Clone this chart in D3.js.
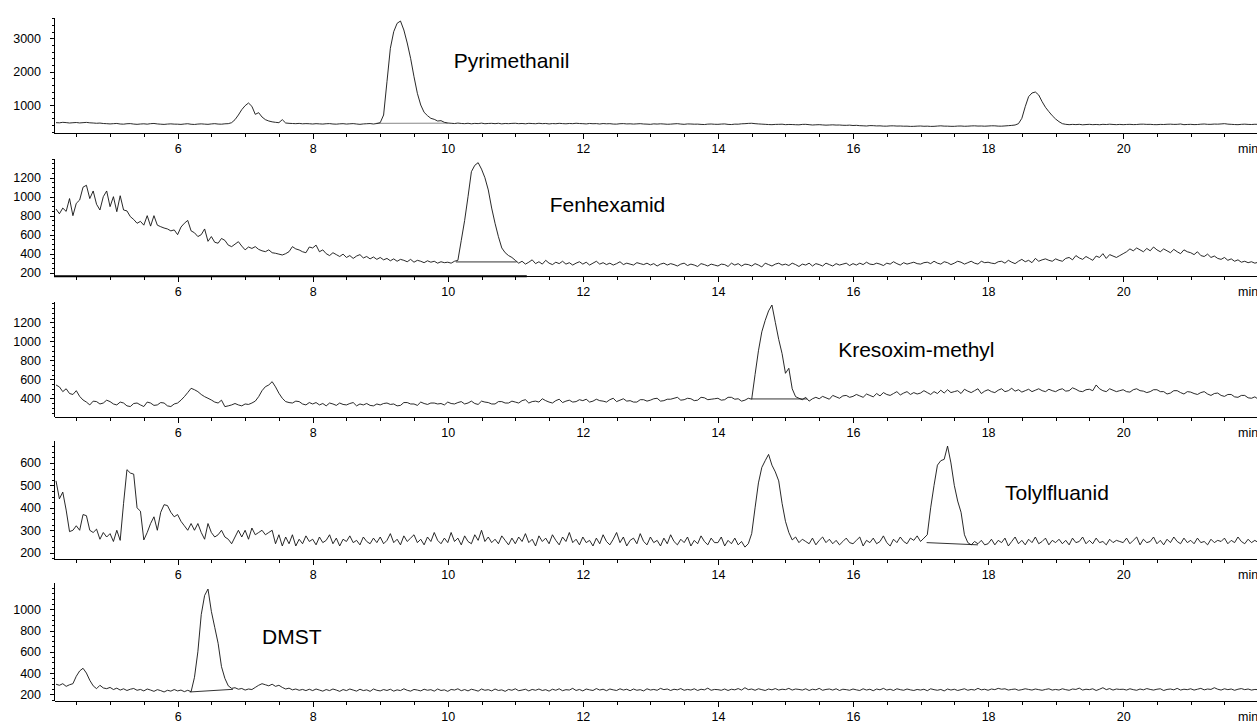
<!DOCTYPE html>
<html>
<head>
<meta charset="utf-8">
<script src="https://cdn.jsdelivr.net/npm/d3@7"></script>
<style>
  body { margin: 0; background: #fff; }
  text { font-family: "Liberation Sans", Arial, sans-serif; fill: #000; }
</style>
</head>
<body>
<div id="chart"></div>
<script>
const startTime = 4.2;    // first sample (min)
const stepTime = 0.05;    // sampling interval (min)

const compounds = ["Pyrimethanil", "Fenhexamid", "Kresoxim-methyl", "Tolylfluanid", "DMST"];

// one trace per panel, one row per minute (4.20 ... 22.00)
const pyrimethanil = [
  470,465,480,472,460,468,475,462,470,478,466,460,452,458,445,440,
  432,440,446,430,425,438,442,428,420,430,436,425,440,446,432,424,418,428,434,426,
  424,418,430,438,422,416,428,434,426,420,432,440,428,424,436,440,470,560,700,860,
  980,1060,960,720,770,640,560,520,495,480,470,560,460,450,445,440,448,436,442,438,
  430,440,434,428,438,442,430,425,435,440,428,436,442,430,420,432,438,444,430,445,
  470,700,1700,2700,3200,3450,3520,3250,2860,2400,1850,1350,1000,780,680,600,570,520,530,480,
  460,452,444,458,446,440,452,436,448,442,456,438,446,450,440,452,434,446,440,448,
  452,440,446,436,450,444,438,452,440,446,432,444,438,450,442,436,446,440,452,444,
  440,432,446,438,442,430,444,436,440,428,426,438,442,432,436,428,434,440,430,426,
  420,434,428,436,430,422,426,434,440,428,420,432,430,424,426,418,414,426,430,422,
  420,428,432,418,414,426,424,436,440,448,452,440,432,426,420,414,410,418,420,424,
  410,416,414,408,405,418,420,410,400,406,410,402,395,400,405,398,400,392,390,396,
  385,390,380,376,370,382,380,372,375,366,365,374,375,368,370,364,365,358,360,366,
  370,362,365,358,360,368,375,366,365,360,360,368,370,362,365,372,375,368,370,364,
  370,376,375,366,365,372,380,388,400,440,600,950,1250,1360,1390,1300,1100,930,800,680,
  580,500,440,420,410,418,412,420,406,414,420,410,416,408,420,414,424,416,410,418,
  410,416,420,412,415,424,425,418,420,412,410,418,415,422,425,418,420,430,410,416,
  420,412,415,424,430,420,420,428,425,432,440,426,420,414,410,420,425,418,415,422,
  420];

const fenhexamid = [
  870,820,880,845,980,800,930,965,1100,1120,980,1060,920,860,1000,1060,
  895,1000,842,1010,860,850,790,760,720,740,700,800,690,800,700,684,670,660,640,650,
  600,680,720,750,640,620,580,600,660,530,580,520,510,560,540,490,474,500,526,480,
  440,470,455,474,445,430,421,440,410,404,395,386,400,421,474,450,439,420,410,470,
  460,490,420,440,400,380,410,390,370,395,360,380,350,375,390,355,370,345,365,340,
  360,335,350,325,345,320,340,330,315,340,310,330,320,305,325,310,320,300,315,305,
  310,300,320,330,540,750,1000,1263,1330,1358,1290,1200,1071,880,720,579,460,410,380,360,
  330,300,320,290,310,335,295,315,290,330,300,285,310,295,320,290,305,280,300,315,
  290,310,280,300,320,290,305,285,300,280,295,315,285,300,290,280,305,295,285,300,
  280,295,270,290,300,280,295,285,270,290,300,275,290,280,265,295,285,270,290,280,
  270,290,285,265,300,280,295,270,290,285,270,295,280,260,300,285,270,290,300,280,
  290,275,300,285,265,290,280,300,270,295,285,270,300,285,270,295,280,290,300,275,
  295,280,300,285,310,290,285,300,290,275,300,290,315,295,280,305,290,300,310,295,
  290,305,310,295,320,300,290,315,305,285,300,320,310,290,305,320,300,290,320,305,
  310,300,295,315,320,300,330,310,295,320,340,315,330,305,350,320,335,345,330,320,
  345,330,320,350,360,335,380,355,340,370,350,330,375,360,400,350,390,375,360,380,
  400,420,450,430,460,440,420,455,430,470,440,420,450,430,410,445,420,400,440,420,
  410,390,420,380,370,395,360,375,350,340,360,330,345,320,335,310,320,305,315,300,
  310];

const kresoximMethyl = [
  540,520,470,500,450,440,480,420,382,360,330,370,365,340,350,380,
  365,340,330,360,350,320,313,345,350,330,313,360,350,325,330,355,350,320,313,340,
  350,380,417,460,505,490,470,440,417,400,382,360,350,380,312,320,330,345,330,320,
  340,335,350,370,417,480,522,540,575,520,453,400,365,355,350,370,365,340,330,355,
  340,355,330,345,320,350,340,325,350,335,330,345,355,320,340,330,345,325,320,340,
  330,345,350,335,340,320,325,355,355,340,340,325,360,345,335,350,350,340,345,330,
  360,345,340,355,365,340,350,370,345,335,370,360,355,340,340,365,365,350,350,370,
  360,350,375,385,350,365,370,360,395,375,360,350,375,390,355,370,380,360,365,385,
  375,390,360,370,390,375,370,360,385,400,365,380,395,370,375,360,360,385,385,370,
  380,395,400,370,375,390,390,400,410,380,385,400,395,375,380,410,405,385,390,395,
  400,380,385,410,410,390,395,370,380,400,390,650,900,1100,1220,1320,1382,1200,1020,870,
  663,716,500,417,400,385,410,370,395,410,395,420,405,390,430,415,400,425,430,410,
  420,440,425,410,445,430,415,450,425,460,440,430,450,470,435,455,470,440,460,445,
  455,480,460,440,470,450,485,455,490,460,470,480,450,495,475,460,480,500,450,475,
  490,470,460,485,500,470,480,505,475,490,465,480,495,470,485,500,480,470,495,480,
  470,490,500,475,480,510,495,475,470,490,495,480,540,500,480,470,500,485,470,480,
  490,470,465,490,500,480,475,460,470,490,490,470,470,445,455,480,480,460,445,470,
  465,450,440,460,470,445,430,450,455,430,420,440,440,415,410,430,430,405,400,415,
  390];

const tolylfluanid = [
  520,440,470,390,294,300,320,300,370,365,300,290,305,260,290,270,
  285,250,300,255,420,570,555,550,400,385,257,290,330,360,300,380,414,410,380,360,
  370,340,320,300,330,300,330,290,260,330,290,270,280,300,270,260,240,270,300,270,
  300,260,310,280,290,300,280,290,300,240,280,230,270,240,280,230,260,240,275,250,
  260,235,270,245,255,280,240,265,230,260,250,275,245,255,235,270,250,240,265,245,
  270,240,255,285,245,260,235,275,250,265,280,245,260,235,270,250,290,255,240,265,
  245,290,250,265,235,275,250,240,280,255,300,250,270,245,260,240,275,255,235,265,
  240,270,250,285,245,260,230,275,250,265,240,280,255,235,270,250,290,245,260,235,
  270,245,255,230,265,240,280,250,235,260,290,245,270,230,255,265,240,285,250,235,
  270,245,255,230,265,240,280,250,235,260,245,270,230,255,240,275,250,235,265,245,
  245,270,230,255,240,265,235,250,225,240,285,400,511,580,610,638,590,560,520,420,
  340,290,257,270,245,260,250,240,265,235,255,270,245,260,240,255,235,250,265,245,
  240,255,270,230,255,245,265,240,250,275,245,230,260,245,270,250,240,265,255,275,
  250,265,280,400,500,590,610,616,675,600,500,430,380,280,245,235,250,240,255,235,
  240,260,235,255,245,265,230,250,270,240,255,235,260,245,270,240,250,265,235,255,
  245,260,240,255,235,265,245,250,270,240,255,240,265,245,250,235,260,245,255,250,
  245,265,240,255,270,235,260,245,250,270,240,255,235,260,245,270,250,240,265,245,
  255,240,265,245,250,235,260,245,255,250,265,240,255,245,270,250,240,260,245,255,
  245];

const dmst = [
  295,285,300,275,290,300,370,420,445,400,332,280,253,285,260,253,
  265,245,258,240,252,236,248,255,238,246,232,250,240,228,244,235,222,238,230,245,
  232,240,225,238,225,360,600,950,1130,1190,980,830,680,460,350,280,256,262,248,255,
  240,250,245,265,285,300,290,280,295,275,285,265,250,258,242,250,238,246,235,248,
  235,250,240,230,245,235,250,240,228,245,235,250,240,230,248,235,242,228,250,238,
  232,245,236,248,230,242,235,252,238,230,246,240,232,248,238,244,230,250,236,242,
  228,246,240,252,234,245,232,248,240,230,250,238,244,232,250,236,242,228,246,238,
  252,234,240,248,232,246,238,250,236,244,230,248,238,252,234,244,240,256,236,246,
  232,250,242,236,254,240,248,234,250,242,236,252,240,248,234,250,238,244,232,252,
  240,246,238,256,244,250,236,248,242,254,238,246,240,252,236,248,242,258,238,246,
  244,238,250,236,248,242,254,240,262,244,250,238,252,244,236,250,242,254,240,248,
  244,256,240,250,246,240,252,236,248,242,256,238,246,250,240,252,236,248,244,238,
  250,242,236,252,240,248,234,250,242,256,240,248,236,252,244,238,250,242,236,246,
  240,248,234,252,244,238,246,232,250,240,248,236,244,252,238,246,240,256,242,248,
  238,250,244,256,248,252,240,246,250,238,244,252,246,240,250,244,238,246,252,240,
  246,240,252,244,238,250,246,258,240,248,244,252,236,248,262,244,254,240,250,246,
  248,240,252,244,238,250,242,254,246,240,248,252,236,246,250,242,256,240,248,244,
  252,240,248,256,242,250,246,262,248,240,252,244,250,238,248,254,244,250,240,246,
  244];

const traces = [pyrimethanil, fenhexamid, kresoximMethyl, tolylfluanid, dmst];

// labelled y ticks of every panel
const yTickLabels = [
  [1000, 2000, 3000],
  [200, 400, 600, 800, 1000, 1200],
  [400, 600, 800, 1000, 1200],
  [200, 300, 400, 500, 600],
  [200, 400, 600, 800, 1000]
];
const xTickLabels = [6, 8, 10, 12, 14, 16, 18, 20];

// integration baseline under each named peak: [t1, v1, t2, v2]
const peakBaselines = [
  [8.94, 450, 10.0, 455],
  [10.12, 313, 11.02, 313],
  [14.50, 393, 15.32, 393],
  [17.09, 245, 17.85, 235],
  [6.18, 222, 6.82, 247]
];

// panel geometry (pixels) and value range
const layout = [
  { top: 17,    bottom: 133,   yMin: 160, yMax: 3640, minor: 200, label: [10.09, 2110] },
  { top: 158.3, bottom: 275.7, yMin: 168, yMax: 1404, minor: 50,  label: [11.51, 839] },
  { top: 301.7, bottom: 416.7, yMin: 206, yMax: 1417, minor: 50,  label: [15.78, 838] },
  { top: 440.7, bottom: 559,   yMin: 172, yMax: 699,  minor: 25,  label: [18.25, 436] },
  { top: 582.7, bottom: 700.7, yMin: 140, yMax: 1250, minor: 50,  label: [7.25, 673] }
];

const width = 1257, height = 721;

const svg = d3.select("#chart")
  .append("svg")
  .attr("width", width)
  .attr("height", height)
  .style("display", "block");

svg.append("rect").attr("width", width).attr("height", height).attr("fill", "#fff");

const X = d3.scaleLinear()
  .domain([4.17, 22.0])
  .range([54, 54 + 17.83 * 67.54]);

function drawPanel(i)
{
  const L = layout[i];
  const Y = d3.scaleLinear().domain([L.yMin, L.yMax]).range([L.bottom, L.top]);
  const g = svg.append("g");

  // x axis: minor ticks every 0.5 min, labelled every 2 min
  const minorX = d3.range(4.5, 22.01, 0.5).filter(t => xTickLabels.indexOf(t) < 0);
  g.append("g")
    .attr("transform", "translate(0," + L.bottom + ")")
    .call(d3.axisBottom(X).tickValues(minorX).tickSize(4).tickSizeOuter(0).tickFormat(""));
  g.append("g")
    .attr("transform", "translate(0," + L.bottom + ")")
    .call(d3.axisBottom(X).tickValues(xTickLabels).tickSize(6).tickPadding(5).tickSizeOuter(0))
    .call(a => a.select(".domain").remove())
    .call(a => a.selectAll("text").style("font-size", "12.5px").style("font-family", "Liberation Sans, Arial, sans-serif"));

  if (i == 1)                            // heavier stretch of the time axis under panel 2
  {
    g.append("line")
      .attr("x1", X(4.17)).attr("x2", X(11.17))
      .attr("y1", L.bottom + 0.5).attr("y2", L.bottom + 0.5)
      .attr("stroke", "#000").attr("stroke-width", 2);
  }

  g.append("text")                       // unit, cut by the right edge
    .attr("x", X(21.7))
    .attr("y", L.bottom + 20)
    .style("font-size", "12.5px")
    .text("min");

  // y axis
  const minorY = d3.range(Math.ceil(L.yMin / L.minor) * L.minor, L.yMax, L.minor)
    .filter(v => yTickLabels[i].indexOf(v) < 0);
  g.append("g")
    .attr("transform", "translate(54,0)")
    .call(d3.axisLeft(Y).tickValues(minorY).tickSize(2.5).tickSizeOuter(0).tickFormat(""));
  g.append("g")
    .attr("transform", "translate(54,0)")
    .call(d3.axisLeft(Y).tickValues(yTickLabels[i]).tickSize(4.5).tickPadding(8.5).tickSizeOuter(0).tickFormat(d3.format("d")))
    .call(a => a.select(".domain").remove())
    .call(a => a.selectAll("text").style("font-size", "12.5px").style("font-family", "Liberation Sans, Arial, sans-serif"));

  g.selectAll(".tick line, .domain").attr("shape-rendering", "crispEdges");

  // integration baseline
  const b = peakBaselines[i];
  g.append("line")
    .attr("x1", X(b[0])).attr("y1", Y(b[1]))
    .attr("x2", X(b[2])).attr("y2", Y(b[3]))
    .attr("stroke", i == 0 ? "#888" : "#333")
    .attr("stroke-width", 1);

  // trace
  const line = d3.line()
    .x((d, j) => X(startTime + j * stepTime))
    .y(d => Y(d));
  g.append("path")
    .datum(traces[i])
    .attr("d", line)
    .attr("fill", "none")
    .attr("stroke", "#111")
    .attr("stroke-width", 0.9)
    .attr("stroke-linejoin", "round");

  // compound name
  g.append("text")
    .attr("x", X(L.label[0]))
    .attr("y", Y(L.label[1]))
    .style("font-size", "21px")
    .text(compounds[i]);
}

for (let i = 0; i < traces.length; i++) drawPanel(i);
</script>
</body>
</html>
